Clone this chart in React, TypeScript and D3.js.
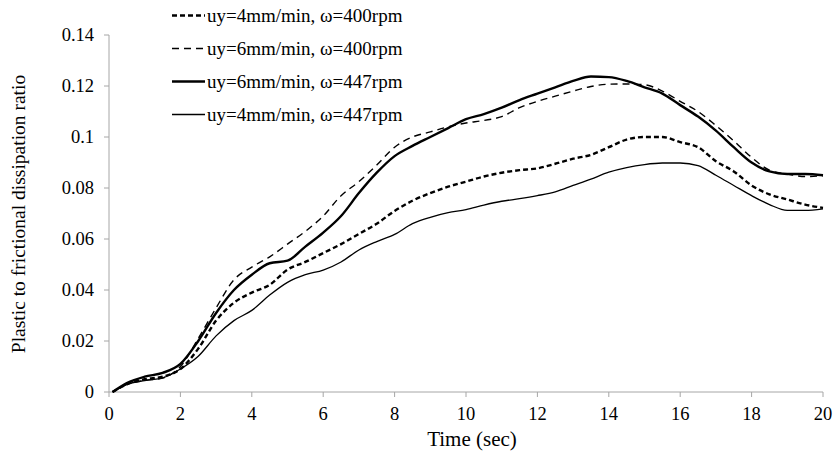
import React from "react";
import * as d3 from "d3";

const times = [0.1, 0.5, 1, 1.5, 2, 2.5, 3, 3.5, 4, 4.5, 5, 5.5, 6, 6.5, 7, 7.5, 8, 8.5, 9, 9.5, 10, 10.5, 11, 11.5, 12, 12.5, 13, 13.5, 14, 14.5, 15, 15.5, 16, 16.5, 17, 17.5, 18, 18.5, 19, 19.5, 20];

const seriesA = [0, 0.003, 0.005, 0.006, 0.009, 0.017, 0.028, 0.035, 0.039, 0.042, 0.048, 0.051, 0.0545, 0.058, 0.062, 0.066, 0.071, 0.075, 0.078, 0.0805, 0.0825, 0.0845, 0.086, 0.087, 0.0877, 0.0895, 0.0915, 0.093, 0.096, 0.099, 0.1, 0.1, 0.098, 0.096, 0.0905, 0.0865, 0.081, 0.0775, 0.0755, 0.0735, 0.0722];
const seriesB = [0, 0.003, 0.0045, 0.0055, 0.01, 0.021, 0.033, 0.044, 0.049, 0.053, 0.058, 0.063, 0.069, 0.077, 0.0825, 0.089, 0.096, 0.1, 0.102, 0.104, 0.1055, 0.1065, 0.108, 0.1115, 0.114, 0.116, 0.118, 0.1198, 0.1207, 0.1208, 0.1205, 0.118, 0.114, 0.11, 0.1045, 0.0985, 0.092, 0.087, 0.0855, 0.0845, 0.0848];
const seriesC = [0, 0.0035, 0.006, 0.0075, 0.011, 0.02, 0.031, 0.04, 0.046, 0.0505, 0.0515, 0.057, 0.0625, 0.069, 0.078, 0.086, 0.0925, 0.0965, 0.1, 0.1035, 0.107, 0.109, 0.1115, 0.1145, 0.117, 0.1195, 0.122, 0.1237, 0.1235, 0.122, 0.1195, 0.117, 0.1125, 0.108, 0.1025, 0.096, 0.09, 0.0865, 0.0855, 0.0855, 0.085];
const seriesD = [0, 0.003, 0.0045, 0.0055, 0.009, 0.014, 0.022, 0.028, 0.032, 0.038, 0.043, 0.046, 0.0478, 0.051, 0.0557, 0.059, 0.0618, 0.066, 0.0685, 0.0703, 0.0715, 0.0733, 0.0748, 0.0758, 0.077, 0.0785, 0.081, 0.0835, 0.0862, 0.088, 0.0892, 0.0898, 0.0898, 0.0888, 0.085, 0.081, 0.077, 0.0735, 0.0712, 0.0712, 0.0718];

const legendLabels = [
  "uy=4mm/min, \u03c9=400rpm",
  "uy=6mm/min, \u03c9=400rpm",
  "uy=6mm/min, \u03c9=447rpm",
  "uy=4mm/min, \u03c9=447rpm",
];

const xTicks = [0, 2, 4, 6, 8, 10, 12, 14, 16, 18, 20];
const yTicks = [0, 0.02, 0.04, 0.06, 0.08, 0.1, 0.12, 0.14];
const yTickLabels = ["0", "0.02", "0.04", "0.06", "0.08", "0.1", "0.12", "0.14"];

const styles = [
  { width: 2.4, dash: "5,3" },
  { width: 1.4, dash: "7,5" },
  { width: 2.4, dash: null },
  { width: 1.3, dash: null },
];

export default function App() {
  const W = 834, H = 453;
  const x = d3.scaleLinear().domain([0, 20]).range([109, 823]);
  const y = d3.scaleLinear().domain([0, 0.14]).range([392, 35]);
  const font = "'Liberation Serif', 'Times New Roman', serif";
  const all = [seriesA, seriesB, seriesC, seriesD];
  const line = d3
    .line<number>()
    .x((_, i) => x(times[i]))
    .y((d) => y(d))
    .curve(d3.curveMonotoneX);
  const axisColor = "#a6a6a6";
  return (
    <svg
      width={W}
      height={H}
      style={{ position: "absolute", left: 0, top: 0, background: "#fff" }}
      fontFamily={font}
    >
      <line x1={x(0)} x2={x(0)} y1={y(0.14)} y2={y(0)} stroke={axisColor} strokeWidth={1} />
      <line x1={x(0)} x2={x(20)} y1={y(0)} y2={y(0)} stroke={axisColor} strokeWidth={1} />
      {yTicks.map((t, i) => (
        <g key={"y" + i}>
          <line x1={x(0) - 5} x2={x(0)} y1={y(t)} y2={y(t)} stroke={axisColor} />
          <text x={x(0) - 15} y={y(t)} dy="0.33em" textAnchor="end" fontSize={18.5} fill="#000">
            {yTickLabels[i]}
          </text>
        </g>
      ))}
      {xTicks.map((t, i) => (
        <g key={"x" + i}>
          <line x1={x(t)} x2={x(t)} y1={y(0)} y2={y(0) + 5} stroke={axisColor} />
          <text x={x(t)} y={420} textAnchor="middle" fontSize={18.5} fill="#000">
            {t}
          </text>
        </g>
      ))}
      <text x={472} y={446} textAnchor="middle" fontSize={21} fill="#000">
        Time (sec)
      </text>
      <text
        transform={`translate(25, 214) rotate(-90)`}
        textAnchor="middle"
        fontSize={19.5}
        fill="#000"
      >
        Plastic to frictional dissipation ratio
      </text>
      {all.map((s, i) => (
        <path
          key={"s" + i}
          d={line(s) || ""}
          fill="none"
          stroke="#000"
          strokeWidth={styles[i].width}
          strokeDasharray={styles[i].dash || undefined}
          strokeLinejoin="round"
        />
      ))}
      {legendLabels.map((l, i) => {
        const ly = 15.5 + i * 33;
        return (
          <g key={"l" + i}>
            <line
              x1={172}
              x2={205}
              y1={ly}
              y2={ly}
              stroke="#000"
              strokeWidth={styles[i].width}
              strokeDasharray={styles[i].dash || undefined}
            />
            <text x={207} y={ly} dy="0.33em" fontSize={19} fill="#000">
              {l}
            </text>
          </g>
        );
      })}
    </svg>
  );
}
